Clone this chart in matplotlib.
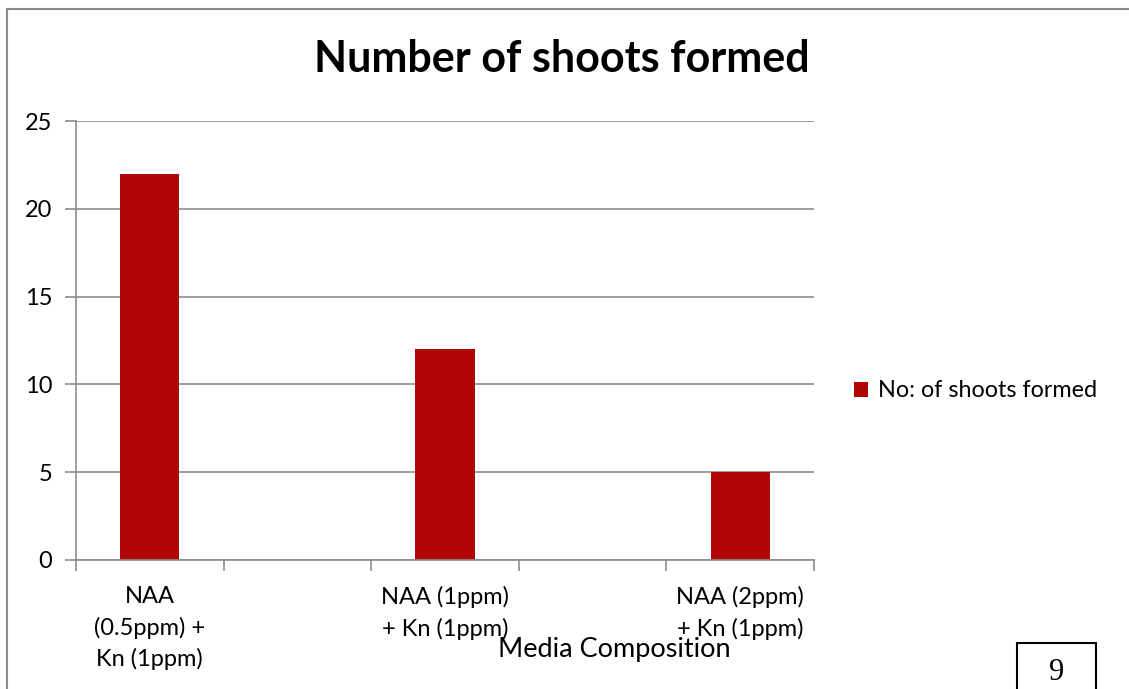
import matplotlib
matplotlib.use("Agg")
import matplotlib.pyplot as plt
from matplotlib.patches import Rectangle
from matplotlib.lines import Line2D
import numpy as np

categories = ["NAA\n(0.5ppm) +\nKn (1ppm)", "NAA (1ppm)\n+ Kn (1ppm)", "NAA (2ppm)\n+ Kn (1ppm)"]
values = [22, 12, 5]
series_name = "No: of shoots formed"
title = "Number of shoots formed"
xlabel = "Media Composition"
yticks = [0, 5, 10, 15, 20, 25]
page_number = "9"

plt.rcParams['font.family'] = ['Lato', 'DejaVu Sans']
bar_color = '#B10606'
grid_color = '#8C8C8C'

fig = plt.figure(figsize=(11.29, 6.89), dpi=100)
ax = fig.add_axes([76/1129, 1 - 560/689, (814-76)/1129, (560-121)/689])

x = np.arange(len(categories)) * 2
ax.bar(x, values, width=0.4, color=bar_color, zorder=3, label=series_name)
ax.set_xlim(-0.5, x[-1] + 0.5)
ax.set_ylim(0, 25)
ax.set_yticks(yticks)
ax.yaxis.grid(True, color=grid_color, linewidth=1.2, zorder=0)
ax.tick_params(axis='y', length=8, width=1.2, color=grid_color, labelsize=17, pad=9)

ax.set_xticks(x)
ax.set_xticklabels(categories, fontsize=17, linespacing=1.5)
ax.tick_params(axis='x', which='major', length=0, pad=19)
ax.set_xticks(np.arange(-0.5, x[-1] + 0.6, 1.0), minor=True)
ax.tick_params(axis='x', which='minor', length=8, width=1.2, color=grid_color)

for s in ['top', 'right']:
    ax.spines[s].set_visible(False)
for s in ['left', 'bottom']:
    ax.spines[s].set_color(grid_color)
    ax.spines[s].set_linewidth(1.2)
ax.spines['bottom'].set_zorder(4)

fig.text(562/1129, 1 - 59/689, title, ha='center', va='center', fontsize=31, fontweight='bold')
fig.text(614/1129, 1 - 650/689, xlabel, ha='center', va='center', fontsize=19.5)

leg = fig.legend(loc='center left', bbox_to_anchor=(833/1129, 1 - 391/689), frameon=False,
                 fontsize=16.8, handlelength=0.6, handleheight=0.6, handletextpad=0.45)

# page border lines
fig.add_artist(Line2D([7/1129, 7/1129], [0, 1 - 9/689], transform=fig.transFigure, color='#8a8a8a', lw=1.5))
fig.add_artist(Line2D([7/1129, 1], [1 - 9/689, 1 - 9/689], transform=fig.transFigure, color='#8a8a8a', lw=1.5))

# page number box
fig.add_artist(Rectangle((1017/1129, -0.01), (1096-1017)/1129, (689-643)/689 + 0.01,
                         transform=fig.transFigure, fill=False, edgecolor='black', lw=1.5))
fig.text(1057/1129, 1 - 673/689, page_number, ha='center', va='center', fontsize=22,
         family=['Liberation Serif', 'DejaVu Serif'])

fig.savefig('out.png', dpi=100)
